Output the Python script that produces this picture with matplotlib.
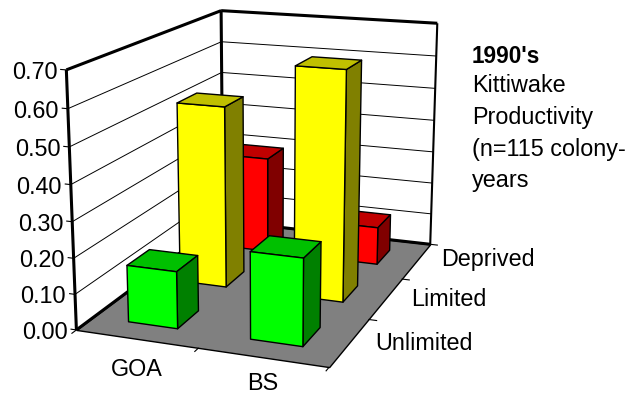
import numpy as np
import matplotlib
matplotlib.use("Agg")
import matplotlib.pyplot as plt
from mpl_toolkits.mplot3d.art3d import Poly3DCollection, Line3DCollection
from mpl_toolkits.mplot3d import proj3d

plt.rcParams['font.family'] = ['Liberation Sans', 'DejaVu Sans']

regions = ["GOA", "BS"]
food_levels = ["Unlimited", "Limited", "Deprived"]
goa_values = [0.16, 0.53, 0.295]
bs_values = [0.24, 0.66, 0.115]
z_ticks = [0.0, 0.1, 0.2, 0.3, 0.4, 0.5, 0.6, 0.7]
front_colors = ["#00FF00", "#FFFF00", "#FF0000"]
side_colors = ["#008000", "#808000", "#800000"]
top_colors = ["#00C000", "#C0C000", "#C00000"]

W, H = 630, 396
fig = plt.figure(figsize=(W/100, H/100), dpi=100)
ax = fig.add_axes([0.0159, -0.0373, 0.80, 1.2], projection='3d')
nx, ny = len(regions), len(food_levels)
zmax = z_ticks[-1]
ax.set_axis_off()
ax.set_xlim(0, nx); ax.set_ylim(0, ny); ax.set_zlim(0, zmax)
ax.set_proj_type('persp', focal_length=0.5437)
ax.view_init(elev=15.2344, azim=-69.5938)
ax.set_box_aspect((1.0039, 1.4656, 1.0), zoom=1.0309)
ax.apply_aspect()

floor = [[(0,0,0),(nx,0,0),(nx,ny,0),(0,ny,0)]]
ax.add_collection3d(Poly3DCollection(floor, facecolor="#808080", edgecolor="k", lw=1.0))
segs = []
for z in z_ticks[1:-1]:
    segs += [[(0,0,z),(0,ny,z)],[(0,ny,z),(nx,ny,z)]]
ax.add_collection3d(Line3DCollection(segs, colors="k", lw=0.7))
frame = [[(0,0,0),(0,0,zmax)],[(0,0,zmax),(0,ny,zmax)],[(0,ny,zmax),(nx,ny,zmax)],
         [(0,ny,0),(0,ny,zmax)],[(0,0,0),(0,ny,0)],[(0,ny,0),(nx,ny,0)]]
ax.add_collection3d(Line3DCollection(frame, colors="k", lw=2.2))
ax.add_collection3d(Line3DCollection([[(nx,ny,zmax),(nx,ny,0)]], colors="k", lw=1.5))

ticks = []
for z in z_ticks:
    ticks.append([(0,0,z),(-0.05,0,z)])
for i in range(nx+1):
    ticks.append([(i,0,0),(i,-0.08,0)])
for j in range(1, ny+1):
    ticks.append([(nx,j,0),(nx+0.07,j,0)])
ax.add_collection3d(Line3DCollection(ticks, colors="k", lw=0.8))

w = 0.205
ax.computed_zorder = False
def box(ix, iy, h, i):
    x0, x1 = ix+0.5-w, ix+0.5+w
    y0, y1 = iy+0.5-w, iy+0.5+w
    front = [(x0,y0,0),(x1,y0,0),(x1,y0,h),(x0,y0,h)]
    side = [(x1,y0,0),(x1,y1,0),(x1,y1,h),(x1,y0,h)]
    top = [(x0,y0,h),(x1,y0,h),(x1,y1,h),(x0,y1,h)]
    pc = Poly3DCollection([front, side, top], facecolors=[front_colors[i], side_colors[i], top_colors[i]],
                          edgecolor="k", lw=1.0)
    pc.set_zorder(10+(ny-iy)*10 - ix)
    ax.add_collection3d(pc, autolim=False)
for iy in range(ny-1, -1, -1):
    for ix, vals in enumerate([goa_values, bs_values]):
        box(ix, iy, vals[iy], iy)

def label(px, py, s, **kw):
    fig.text(px/W, 1-py/H, s, va='center_baseline', color='k', **kw)

M = ax.get_proj()
for z in z_ticks:
    x, y, _ = proj3d.proj_transform(0, 0, z, M)
    dx, dy = ax.transData.transform((x, y))
    fig.text((dx-9)/W, dy/H, f"{z:.2f}", ha='right', va='center_baseline', fontsize=16.8)

fs = 16.8
label(136.5, 367, regions[0], ha='center', fontsize=fs)
label(263, 381, regions[1], ha='center', fontsize=fs)
label(375, 341, food_levels[0], ha='left', fontsize=fs)
label(411, 297, food_levels[1], ha='left', fontsize=fs)
label(441, 257, food_levels[2], ha='left', fontsize=fs)

label(472, 54, "1990's", ha='left', fontsize=16.3, fontweight='bold')
for t, y in zip(["Kittiwake", "Productivity", "(n=115 colony-", "years"], [83, 115, 147, 178]):
    label(472, y, t, ha='left', fontsize=fs)

fig.savefig("out.png", dpi=100)
